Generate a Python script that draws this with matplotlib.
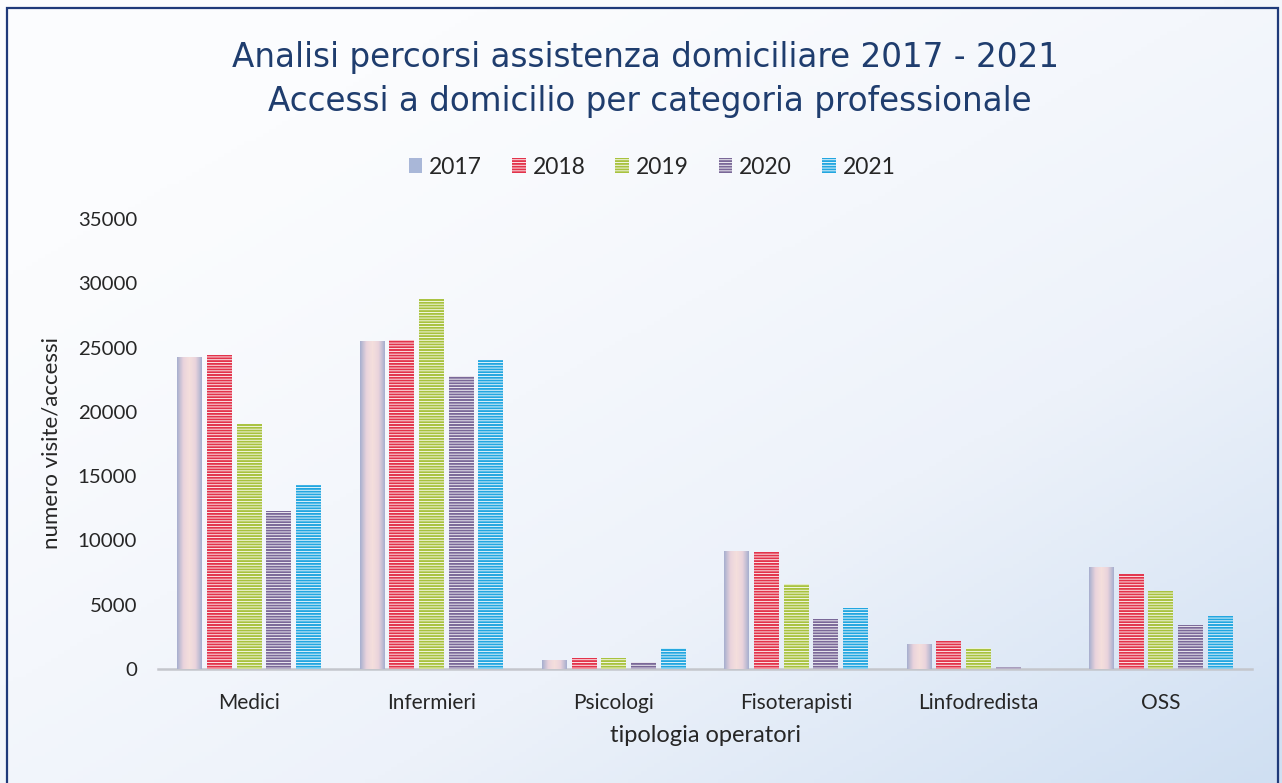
import numpy as np
import matplotlib
matplotlib.use("Agg")
import matplotlib.pyplot as plt
import matplotlib.patches as patches
from matplotlib.colors import LinearSegmentedColormap

plt.rcParams["font.family"] = ["Lato", "DejaVu Sans"]
plt.rcParams["hatch.linewidth"] = 0.6

categories = ["Medici", "Infermieri", "Psicologi", "Fisoterapisti", "Linfodredista", "OSS"]
years = ["2017", "2018", "2019", "2020", "2021"]

v2017 = [24250, 25550, 700, 9160, 1920, 7940]
v2018 = [24450, 25600, 830, 9080, 2170, 7370]
v2019 = [19050, 28750, 880, 6650, 1650, 6050]
v2020 = [12300, 22800, 570, 3880, 120, 3410]
v2021 = [14300, 24050, 1650, 4760, 0, 4110]

series = [v2017, v2018, v2019, v2020, v2021]
colors = ["#a9b7d8", "#e2334b", "#a8c23e", "#7a6898", "#22a6e0"]

W, H = 1282, 783
fig = plt.figure(figsize=(W / 100, H / 100), dpi=100)
fig.patch.set_facecolor("white")

# paper-like background: near white top-left, pale blue towards bottom-right
bg = fig.add_axes([0, 0, 1, 1], zorder=-10)
gx, gy = np.meshgrid(np.linspace(0, 1, 200), np.linspace(0, 1, 200))
t = np.clip(0.55 * gx + 0.6 * gy - 0.2, 0, 1) ** 1.3
bg_cmap = LinearSegmentedColormap.from_list("bg", ["#fbfcfe", "#edf2fa", "#cfdff2"])
bg.imshow(t, cmap=bg_cmap, extent=[0, 1, 0, 1], aspect="auto", origin="upper")
bg.set_xlim(0, 1)
bg.set_ylim(0, 1)
bg.axis("off")

# frame around the chart
frame = patches.Rectangle((7 / W, -0.01), (1278 - 7) / W, (H - 8) / H + 0.01,
                          transform=fig.transFigure, fill=False,
                          edgecolor="#1f3a7a", linewidth=1.6)
fig.patches.append(frame)

ax = fig.add_axes([158 / W, (H - 669) / H, (1252 - 158) / W, (669 - 219) / H])
ax.set_facecolor("none")

x = np.arange(len(categories))
pitch = 0.163
width = 0.137

containers = []
for i, (yr, vals, col) in enumerate(zip(years, series, colors)):
    offs = (i - 2) * pitch
    if i == 0:
        bc = ax.bar(x + offs, vals, width, color=col, linewidth=0, label=yr, zorder=2)
    else:
        bc = ax.bar(x + offs, vals, width, color=col, edgecolor="white",
                    hatch="------", linewidth=0, label=yr, zorder=2)
    containers.append(bc)

# 2017 bars: soft gradient, blue-grey edges and pink centre
grad_cmap = LinearSegmentedColormap.from_list(
    "g17", ["#a7afcf", "#e9d3dc", "#f5dfdc", "#e9d3dc", "#a7afcf"])
grad = np.linspace(0, 1, 64).reshape(1, -1)
for rect in containers[0]:
    x0, y0 = rect.get_x(), rect.get_y()
    w, h = rect.get_width(), rect.get_height()
    if h <= 0:
        continue
    im = ax.imshow(grad, cmap=grad_cmap, extent=[x0, x0 + w, y0, y0 + h],
                   aspect="auto", zorder=3)
    im.set_clip_path(rect)

ax.set_xlim(-0.5, len(categories) - 0.5)
ax.set_ylim(0, 35000)
ax.set_yticks(np.arange(0, 35001, 5000))
ax.set_xticks(x)
ax.set_xticklabels(categories)
ax.tick_params(axis="both", length=0, colors="#262626")
ax.tick_params(axis="y", pad=15, labelsize=14.7)
ax.tick_params(axis="x", pad=17, labelsize=15)

for side in ["left", "right", "top"]:
    ax.spines[side].set_visible(False)
ax.spines["bottom"].set_color("#c4c6cc")
ax.spines["bottom"].set_linewidth(1.8)
ax.spines["bottom"].set_zorder(1)

fig.text(705 / W, 1 - 736 / H, "tipologia operatori", ha="center", va="center",
         fontsize=17, color="#262626")
fig.text(52 / W, 1 - 443 / H, "numero visite/accessi", rotation=90,
         ha="center", va="center", fontsize=16, color="#262626")

fig.text(646 / W, 1 - 57 / H, "Analisi percorsi assistenza domiciliare 2017 - 2021",
         ha="center", va="center", fontsize=23.5, color="#1f3d6e",
         family=["DejaVu Sans"])
fig.text(650 / W, 1 - 102 / H, "Accessi a domicilio per categoria professionale",
         ha="center", va="center", fontsize=23.5, color="#1f3d6e",
         family=["DejaVu Sans"])

leg = ax.legend(loc="center", bbox_to_anchor=(652 / W, 1 - 167 / H),
                bbox_transform=fig.transFigure, ncol=5, frameon=False,
                fontsize=16.5, handlelength=0.6, handleheight=0.6,
                handletextpad=0.3, columnspacing=1.3)
for t_ in leg.get_texts():
    t_.set_color("#262626")

fig.savefig("out.png", dpi=100)
